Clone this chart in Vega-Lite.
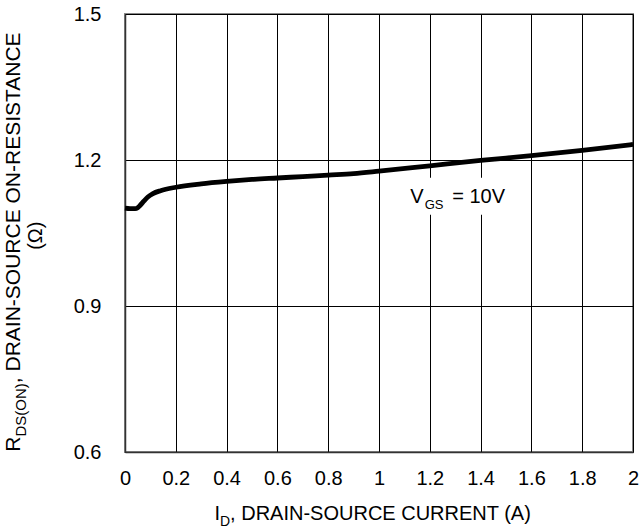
{
  "$schema": "https://vega.github.io/schema/vega-lite/v6.json",
  "autosize": "none",
  "width": 508,
  "height": 438,
  "padding": {"left": 125, "top": 14, "right": 6, "bottom": 77},
  "background": "white",
  "config": {
    "font": "Liberation Sans",
    "view": {"stroke": "#888888", "strokeWidth": 2},
    "text": {"font": "Liberation Sans", "color": "#000000"}
  },
  "layer": [
    {
      "data": {"values": [{"x1": 1.103, "x2": 1.516, "y1": 1.1636, "y2": 1.0876}]},
      "mark": {"type": "rect", "color": "#ffffff", "opacity": 1},
      "encoding": {
        "x": {"field": "x1", "type": "quantitative"},
        "x2": {"field": "x2"},
        "y": {"field": "y1", "type": "quantitative"},
        "y2": {"field": "y2"}
      }
    },
    {
      "data": {
        "values": [
          {"id": 0.0, "r": 1.101},
          {"id": 0.02, "r": 1.1},
          {"id": 0.04, "r": 1.1},
          {"id": 0.05, "r": 1.102},
          {"id": 0.06, "r": 1.107},
          {"id": 0.075, "r": 1.116},
          {"id": 0.09, "r": 1.124},
          {"id": 0.11, "r": 1.131},
          {"id": 0.14, "r": 1.137},
          {"id": 0.2, "r": 1.144},
          {"id": 0.3, "r": 1.151},
          {"id": 0.4, "r": 1.156},
          {"id": 0.5, "r": 1.16},
          {"id": 0.6, "r": 1.163},
          {"id": 0.7, "r": 1.166},
          {"id": 0.8, "r": 1.169},
          {"id": 0.9, "r": 1.172},
          {"id": 1.0, "r": 1.177},
          {"id": 1.2, "r": 1.188},
          {"id": 1.4, "r": 1.199},
          {"id": 1.6, "r": 1.209},
          {"id": 1.8, "r": 1.22},
          {"id": 2.0, "r": 1.232}
        ]
      },
      "mark": {"type": "line", "color": "#000000", "strokeWidth": 4.8, "interpolate": "monotone"},
      "encoding": {
        "x": {
          "field": "id", "type": "quantitative",
          "scale": {"domain": [0, 2], "nice": false, "zero": false},
          "axis": {
            "values": [0, 0.2, 0.4, 0.6, 0.8, 1, 1.2, 1.4, 1.6, 1.8, 2],
            "format": "~g",
            "title": null,
            "grid": true, "gridColor": "#000000", "gridOpacity": 1, "gridWidth": 1,
            "ticks": false,
            "labelPadding": 16, "labelFontSize": 20, "labelColor": "#000000",
            "labelFlush": false, "labelOverlap": false, "labelFont": "Liberation Sans",
            "domain": true, "domainColor": "#333333", "domainWidth": 1.5
          }
        },
        "y": {
          "field": "r", "type": "quantitative",
          "scale": {"domain": [0.6, 1.5], "nice": false, "zero": false},
          "axis": {
            "values": [0.6, 0.9, 1.2, 1.5],
            "format": ".1f",
            "title": null,
            "grid": true, "gridColor": "#000000", "gridOpacity": 1, "gridWidth": 1,
            "ticks": false,
            "labelPadding": 24, "labelFontSize": 20, "labelColor": "#000000",
            "labelFlush": false, "labelOverlap": false, "labelFont": "Liberation Sans",
            "domain": true, "domainColor": "#333333", "domainWidth": 1.5
          }
        }
      }
    },
    {
      "data": {"values": [{"t": "V"}]},
      "mark": {"type": "text", "fontSize": 20, "align": "left", "baseline": "alphabetic"},
      "encoding": {"x": {"datum": 1.1229}, "y": {"datum": 1.1123}, "text": {"field": "t"}}
    },
    {
      "data": {"values": [{"t": "GS"}]},
      "mark": {"type": "text", "fontSize": 13, "align": "left", "baseline": "alphabetic", "dx": 14.5, "dy": 6},
      "encoding": {"x": {"datum": 1.1229}, "y": {"datum": 1.1123}, "text": {"field": "t"}}
    },
    {
      "data": {"values": [{"t": "= 10V"}]},
      "mark": {"type": "text", "fontSize": 20, "align": "left", "baseline": "alphabetic", "dx": 42},
      "encoding": {"x": {"datum": 1.1229}, "y": {"datum": 1.1123}, "text": {"field": "t"}}
    },
    {
      "data": {"values": [{"t": "I"}]},
      "mark": {"type": "text", "fontSize": 20, "align": "left", "baseline": "alphabetic"},
      "encoding": {"x": {"datum": 0.352}, "y": {"datum": 0.4609}, "text": {"field": "t"}}
    },
    {
      "data": {"values": [{"t": "D"}]},
      "mark": {"type": "text", "fontSize": 14, "align": "left", "baseline": "alphabetic", "dx": 5.6, "dy": 6},
      "encoding": {"x": {"datum": 0.352}, "y": {"datum": 0.4609}, "text": {"field": "t"}}
    },
    {
      "data": {"values": [{"t": ", DRAIN-SOURCE CURRENT (A)"}]},
      "mark": {"type": "text", "fontSize": 20, "align": "left", "baseline": "alphabetic", "dx": 15.7},
      "encoding": {"x": {"datum": 0.352}, "y": {"datum": 0.4609}, "text": {"field": "t"}}
    },
    {
      "data": {"values": [{"t": "R"}]},
      "mark": {"type": "text", "fontSize": 21, "align": "left", "baseline": "alphabetic", "angle": 270},
      "encoding": {"x": {"datum": -0.415}, "y": {"datum": 0.6006}, "text": {"field": "t"}}
    },
    {
      "data": {"values": [{"t": "DS(ON)"}]},
      "mark": {"type": "text", "fontSize": 15, "align": "left", "baseline": "alphabetic", "angle": 270, "dx": 15.2, "dy": 6},
      "encoding": {"x": {"datum": -0.415}, "y": {"datum": 0.6006}, "text": {"field": "t"}}
    },
    {
      "data": {"values": [{"t": ", DRAIN-SOURCE ON-RESISTANCE"}]},
      "mark": {"type": "text", "fontSize": 21, "align": "left", "baseline": "alphabetic", "angle": 270, "dx": 68.5},
      "encoding": {"x": {"datum": -0.415}, "y": {"datum": 0.6006}, "text": {"field": "t"}}
    },
    {
      "data": {"values": [{"t": "(Ω)"}]},
      "mark": {"type": "text", "fontSize": 20, "align": "center", "baseline": "alphabetic", "angle": 270},
      "encoding": {"x": {"datum": -0.3284}, "y": {"datum": 1.0444}, "text": {"field": "t"}}
    }
  ]
}
